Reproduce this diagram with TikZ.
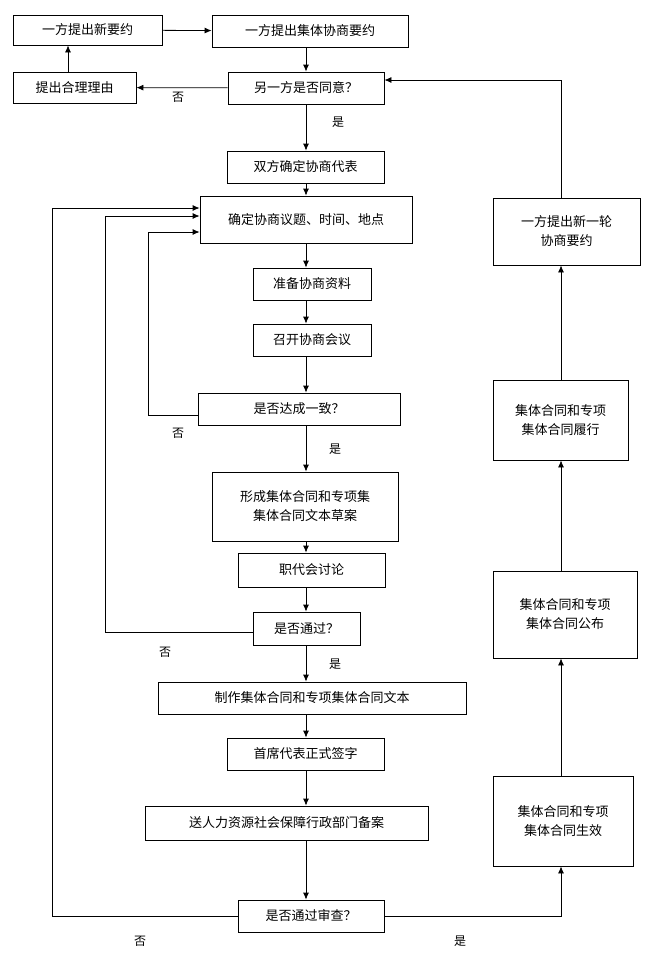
\documentclass[tikz,border=0pt]{standalone}
\usepackage{fontspec}
\newfontfamily\cjk{Noto Sans CJK SC}
\usetikzlibrary{arrows.meta}
\begin{document}
\begin{tikzpicture}[x=1pt,y=-1pt,
  box/.style={draw,thick,inner sep=0pt,align=center,font=\cjk\fontsize{13}{19}\selectfont},
  ar/.style={thick,-{Latex[length=7pt,width=6pt]}},
  lb/.style={font=\cjk\fontsize{12}{14}\selectfont}]
\useasboundingbox (0,0) rectangle (667,959);
\newcommand{\bx}[6]{\node[box,minimum width={#4-#2},minimum height={#5-#3}] (#1) at ({(#2+#4)/2},{(#3+#5)/2}) {#6};}
\bx{n1}{13}{15}{162}{45}{一方提出新要约}
\bx{n2}{212}{15}{408}{47}{一方提出集体协商要约}
\bx{n3}{13}{72}{136}{103}{提出合理理由}
\bx{n4}{228}{72}{384}{104}{另一方是否同意？}
\bx{n5}{227}{151}{384}{183}{双方确定协商代表}
\bx{n6}{200}{196}{412}{243}{确定协商议题、时间、地点}
\bx{n7}{253}{268}{371}{300}{准备协商资料}
\bx{n8}{253}{324}{371}{356}{召开协商会议}
\bx{n9}{198}{393}{400}{425}{是否达成一致？}
\bx{n10}{212}{472}{398}{541}{形成集体合同和专项集\\集体合同文本草案}
\bx{n11}{238}{553}{385}{587}{职代会讨论}
\bx{n12}{253}{612}{360}{645}{是否通过？}
\bx{n13}{158}{682}{466}{714}{制作集体合同和专项集体合同文本}
\bx{n14}{227}{738}{384}{770}{首席代表正式签字}
\bx{n15}{145}{806}{428}{840}{送人力资源社会保障行政部门备案}
\bx{n16}{238}{900}{384}{932}{是否通过审查？}
\bx{n17}{493}{198}{640}{265}{一方提出新一轮\\协商要约}
\bx{n18}{493}{380}{628}{460}{集体合同和专项\\集体合同履行}
\bx{n19}{493}{571}{637}{658}{集体合同和专项\\集体合同公布}
\bx{n20}{493}{776}{633}{866}{集体合同和专项\\集体合同生效}
\draw[ar] (n1) -- (n2);
\draw[ar] (n4) -- (n3);
\draw[ar] (n3.north -| 68,0) -- (n1.south -| 68,0);
\draw[ar] (306,47) -- (n4.north -| 306,0);
\foreach \a/\b in {n4/n5,n5/n6,n6/n7,n7/n8,n8/n9,n9/n10,n10/n11,n11/n12,n12/n13,n13/n14,n14/n15,n15/n16}
  \draw[ar] (\a.south -| 306,0) -- (\b.north -| 306,0);
\draw[ar] (n9.west |- 0,415) -- (148,415) -- (148,232) -- (n6.west |- 0,232);
\draw[ar] (n12.west |- 0,632) -- (105,632) -- (105,216) -- (n6.west |- 0,216);
\draw[ar] (n16.west |- 0,916) -- (52,916) -- (52,208) -- (n6.west |- 0,208);
\draw[ar] (n16.east |- 0,916) -- (561,916) -- (n20.south -| 561,0);
\draw[ar] (n20.north -| 561,0) -- (n19.south -| 561,0);
\draw[ar] (n19.north -| 561,0) -- (n18.south -| 561,0);
\draw[ar] (n18.north -| 561,0) -- (n17.south -| 561,0);
\draw[ar] (n17.north -| 561,0) -- (561,80) -- (n4.east |- 0,80);
\node[lb] (l1) at (178,97) {否};
\node[lb] (l2) at (338,122) {是};
\node[lb] (l3) at (178,433) {否};
\node[lb] (l4) at (335,449) {是};
\node[lb] (l5) at (165,652) {否};
\node[lb] (l6) at (335,664) {是};
\node[lb] (l7) at (140,941) {否};
\node[lb] (l8) at (460,941) {是};
\end{tikzpicture}
\end{document}
